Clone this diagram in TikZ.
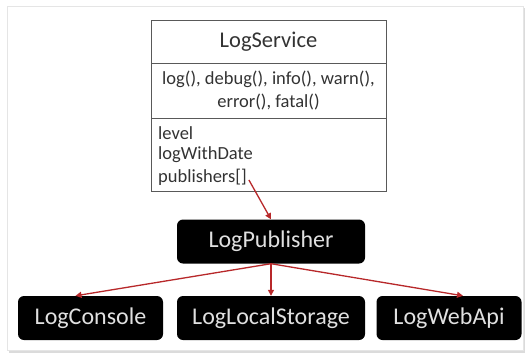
\documentclass[tikz,border=0pt]{standalone}
\usepackage{fontspec}
\setmainfont{Carlito}
\usetikzlibrary{arrows.meta,calc}
\definecolor{arrowred}{HTML}{B8282A}
\definecolor{txtgray}{HTML}{333333}
\tikzset{
  blackbox/.style={fill=black, rounded corners=6pt, text=white!88!black, minimum height=44pt, font=\fontsize{24}{28}\selectfont, inner sep=0pt},
  rel/.style={draw=arrowred, line width=1.3pt, -{Triangle[width=6pt,length=6pt]}},
  memb/.style={text=txtgray, font=\fontsize{18.5}{23}\selectfont, inner sep=0pt},
}
\begin{document}
\begin{tikzpicture}[x=1pt,y=-1pt]
\useasboundingbox (0,0) rectangle (527,354);
\fill[white] (0,0) rectangle (527,354);
% outer panel with faint shadow
\fill[black!14] (9,8) rectangle (525,353);
\fill[white,draw=black!10] (7,6) rectangle (523,350);
% class box
\draw[black!65, line width=1pt, fill=white] (151,20) rectangle (386,191);
\draw[black!65, line width=1pt] (151,63) -- (386,63);
\draw[black!65, line width=1pt] (151,118) -- (386,118);
\node[text=txtgray, font=\fontsize{22.5}{26}\selectfont, inner sep=0pt] (title) at (268.5,42) {LogService};
\node[memb, align=center] (methods) at (268.5,90.5) {log(), debug(), info(), warn(),\\error(), fatal()};
\node[memb, anchor=west] (lvl) at (158,133) {level};
\node[memb, anchor=west] (lwd) at (158,155) {logWithDate};
\node[memb, anchor=west] (pub) at (158,177) {publishers[]};
% black boxes
\node[blackbox, minimum width=188pt] (lp) at (271,241.5) {LogPublisher};
\node[blackbox, minimum width=145pt] (lc) at (90.5,318) {LogConsole};
\node[blackbox, minimum width=188pt] (lls) at (271,318) {LogLocalStorage};
\node[blackbox, minimum width=145pt] (lwa) at (449,318) {LogWebApi};
% connectors
\coordinate (ps) at ($(pub.east)+(2,3)$);
\coordinate (lct) at ($(lc.north)+(-15,0)$);
\coordinate (lwt) at ($(lwa.north)+(14,0)$);
\draw[rel] (ps) -- (lp.north);
\draw[rel] (lp.south) -- (lct);
\draw[rel] (lp.south) -- (lls.north);
\draw[rel] (lp.south) -- (lwt);
\end{tikzpicture}
\end{document}
